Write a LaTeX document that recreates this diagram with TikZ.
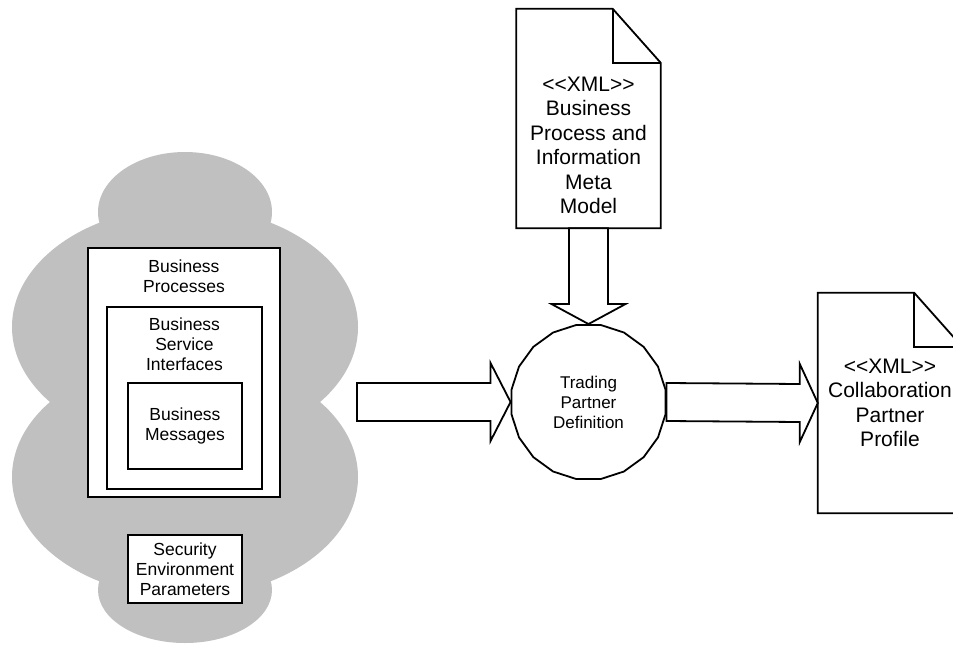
\documentclass[tikz,border=0pt]{standalone}
\usepackage{fontspec}
\setmainfont{Liberation Sans}
\usetikzlibrary{positioning,calc,shapes.geometric}
\definecolor{cloudgray}{HTML}{C0C0C0}
\tikzset{
  box/.style={draw,line width=1.8pt,fill=white,inner sep=0pt,align=center,font=\fontsize{17.5}{20}\selectfont},
  lbl/.style={inner sep=0pt,align=center,font=\fontsize{17.5}{20}\selectfont},
  docbox/.style={minimum width=144pt,inner sep=0pt},
  doctxt/.style={inner sep=0pt,align=center,font=\fontsize{21}{24.5}\selectfont},
  docline/.style={line width=1.8pt,line join=miter},
  fatarrow/.style={draw,line width=1.8pt,fill=white,line join=miter}
}
\begin{document}
\begin{tikzpicture}[x=1pt,y=-1pt]
\useasboundingbox (0,0) rectangle (953,651);

\fill[cloudgray] (185,327) ellipse (173 and 120);
\fill[cloudgray] (185,477) ellipse (173 and 120);
\fill[cloudgray] (185,212) ellipse (87 and 60);
\fill[cloudgray] (185,590) ellipse (87 and 53);

\node[box,minimum width=192pt,minimum height=249pt] (bp) at (184,372.5) {};
\node[lbl,below=12.5pt of bp.north] (bptxt) {Business\\Processes};
\node[box,minimum width=155pt,minimum height=182pt] (bsi) at (184.5,398) {};
\node[lbl,below=11.5pt of bsi.north] (bsitxt) {Business\\Service\\Interfaces};
\node[box,minimum width=114pt,minimum height=86pt] (bm) at (185,426) {Business\\Messages};
\node[box,minimum width=114pt,minimum height=68pt] (sep) at (185,569) {Security\\Environment\\Parameters};

\node[docbox,minimum height=219pt] (bpim) at (588.5,118.5) {};
\draw[docline] (bpim.south west) -- (bpim.north west) -- ($(bpim.north east)+(-48,0)$) coordinate (bpimfold)
  -- ($(bpim.north east)+(0,54)$) -- (bpim.south east) -- cycle;
\draw[docline] (bpimfold) |- ($(bpim.north east)+(0,54)$);
\node[doctxt,above=14pt of bpim.south] (bpimtxt) {<{}<XML>{}>\\Business\\Process and\\Information\\Meta\\Model};

\node[docbox,minimum height=220pt] (cpp) at (890,403) {};
\draw[docline] (cpp.south west) -- (cpp.north west) -- ($(cpp.north east)+(-48,0)$) coordinate (cppfold)
  -- ($(cpp.north east)+(0,54)$) -- (cpp.south east) -- cycle;
\draw[docline] (cppfold) |- ($(cpp.north east)+(0,54)$);
\node[doctxt,above=66pt of cpp.south] (cpptxt) {<{}<XML>{}>\\Collaboration\\Partner\\Profile};

\node[regular polygon,regular polygon sides=20,draw,line width=1.8pt,minimum size=156pt,inner sep=0pt,
  align=center,font=\fontsize{17}{20}\selectfont] (tpd) at (588.5,402) {Trading\\Partner\\Definition};

\coordinate (cloudout) at (357,402);
\draw[fatarrow] ($(cloudout)+(0,-19)$) -- ($(tpd.west)+(-20,-19)$) -- ($(tpd.west)+(-20,-39)$) -- (tpd.west)
  -- ($(tpd.west)+(-20,39)$) -- ($(tpd.west)+(-20,19)$) -- ($(cloudout)+(0,19)$) -- cycle;
\draw[fatarrow] ($(tpd.east)+(0,-19)$) -- ($(cpp.west)+(-18,-19)$) -- ($(cpp.west)+(-18,-39)$) -- (cpp.west)
  -- ($(cpp.west)+(-18,39)$) -- ($(cpp.west)+(-18,19)$) -- ($(tpd.east)+(0,19)$) -- cycle;
\draw[fatarrow] ($(bpim.south)+(-19.5,0)$) -- ($(tpd.north)+(-19.5,-20)$) -- ($(tpd.north)+(-37,-20)$) -- (tpd.north)
  -- ($(tpd.north)+(37,-20)$) -- ($(tpd.north)+(19.5,-20)$) -- ($(bpim.south)+(19.5,0)$) -- cycle;
\end{tikzpicture}
\end{document}
